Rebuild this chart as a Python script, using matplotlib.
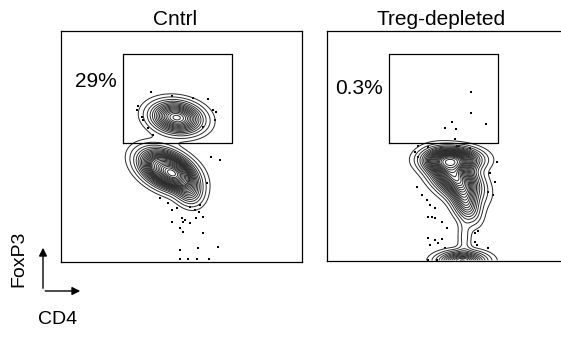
import numpy as np
import matplotlib
matplotlib.use('Agg')
import matplotlib.pyplot as plt

plt.rcParams['font.family'] = ['Liberation Sans', 'DejaVu Sans']

# panel titles and gate frequencies
titles = ['Cntrl', 'Treg-depleted']
gate_pct = ['29%', '0.3%']

# FoxP3+ gate (CD4 low..high, FoxP3 low..high), axis units 0-100
gate_x = [25.7, 71.0]
gate_y = [51.5, 90.0]

# cell populations: centre, spread, tilt, weight
cntrl_mx = [48.0, 44.0, 46.5, 53.0]
cntrl_my = [62.5, 40.0, 38.0, 31.0]
cntrl_sx = [6.2, 6.3, 3.4, 3.5]
cntrl_sy = [4.0, 4.8, 2.8, 4.0]
cntrl_rho = [-0.15, -0.4, -0.3, -0.2]
cntrl_w = [0.29, 0.53, 0.12, 0.06]

depl_mx = [52.0, 53.0, 57.5, 57.0, 56.0]
depl_my = [44.0, 36.5, 25.0, 10.0, 0.0]
depl_sx = [6.5, 6.0, 3.5, 1.8, 6.0]
depl_sy = [3.0, 5.5, 5.0, 5.0, 2.5]
depl_rho = [0.0, -0.45, -0.35, 0.0, 0.0]
depl_w = [0.3, 0.43, 0.1, 0.012, 0.14]

# share of events left outside each contour line
outside = [0.02, 0.05, 0.09, 0.13, 0.17, 0.21, 0.25, 0.29, 0.33, 0.37, 0.41,
           0.45, 0.49, 0.53, 0.57, 0.61, 0.65, 0.69, 0.73, 0.77, 0.81, 0.85,
           0.89, 0.93, 0.97]

# outlying events drawn as dots
cntrl_dot_x = [37.3, 32.1, 31.4, 33.5, 34.1, 36.2, 38.3, 45.9, 54.9, 61.1, 63.2, 64.3,
               63.9, 59.0, 62.1, 66.0, 60.5, 41.1, 44.5, 45.9, 48.0, 53.5, 55.6, 57.7,
               57.4, 50.1, 51.5, 50.7, 45.9, 53.5, 56.0, 59.0, 49.4, 50.7, 59.0, 49.4,
               57.0, 65.3, 49.4, 52.8, 56.6, 61.5]
cntrl_dot_y = [73.7, 67.7, 65.8, 62.9, 61.5, 58.1, 55.0, 72.0, 71.1, 70.6, 65.8, 65.1,
               61.5, 58.6, 45.6, 44.2, 34.1, 27.6, 25.4, 22.5, 23.2, 23.9, 22.5, 24.7,
               21.8, 18.9, 18.2, 17.2, 17.4, 16.8, 18.9, 19.6, 14.6, 13.1, 12.4, 5.2,
               5.9, 6.6, 1.3, 1.3, 1.3, 1.3]
depl_dot_x = [59.8, 59.8, 65.9, 52.0, 49.0, 53.5, 53.1, 37.9, 42.0, 53.8, 54.8, 59.3,
              36.5, 37.9, 70.4, 67.6, 69.7, 66.9, 69.0, 37.2, 39.3, 41.4, 42.7, 44.8,
              43.4, 44.8, 42.0, 47.6, 49.7, 62.8, 61.4, 42.0, 44.8, 47.6, 46.2, 42.7,
              49.0, 61.4, 62.1, 66.9, 42.0, 45.6]
depl_dot_y = [73.3, 64.5, 59.4, 60.6, 58.0, 57.3, 53.0, 50.0, 49.7, 50.0, 50.0, 49.0,
              47.5, 45.3, 43.2, 38.1, 34.5, 30.1, 28.7, 32.3, 28.7, 26.5, 24.3, 22.9,
              19.3, 18.6, 19.3, 17.1, 14.2, 13.0, 12.0, 9.9, 9.1, 9.6, 7.7, 7.0,
              5.5, 8.4, 7.0, 5.5, 0.4, 0.4]


def density(xx, yy, mx, my, sx, sy, rho, w):
    z = np.zeros_like(xx)
    for i in range(len(mx)):
        dx = (xx - mx[i]) / sx[i]
        dy = (yy - my[i]) / sy[i]
        q = (dx**2 - 2 * rho[i] * dx * dy + dy**2) / (1 - rho[i]**2)
        z += w[i] * np.exp(-q / 2) / (2 * np.pi * sx[i] * sy[i] * np.sqrt(1 - rho[i]**2))
    return z


def prob_levels(z):
    # density value at which a given share of events lies outside the line
    v = np.sort(z.ravel())[::-1]
    c = np.cumsum(v) / v.sum()
    lv = [v[np.searchsorted(c, 1 - p)] for p in outside]
    return np.unique(lv)


def draw_panel(ax, pct, pct_y, pops, dots_x, dots_y):
    gx = np.linspace(0, 100, 400)
    gy = np.linspace(0.3, 100, 400)
    xx, yy = np.meshgrid(gx, gy)
    z = density(xx, yy, *pops)
    ax.contour(xx, yy, z, levels=prob_levels(z), colors='#2a2a2a', linewidths=0.7)
    ax.scatter(dots_x, dots_y, s=2.5, marker='s', c='black', linewidths=0)
    ax.plot([gate_x[0], gate_x[1], gate_x[1], gate_x[0], gate_x[0]],
            [gate_y[0], gate_y[0], gate_y[1], gate_y[1], gate_y[0]],
            color='black', lw=0.9)
    ax.text(gate_x[0] - 2.5, pct_y, pct, ha='right', va='center', fontsize=15)
    ax.set_xlim(0, 100)
    ax.set_ylim(0, 100)
    ax.set_xticks([])
    ax.set_yticks([])
    for sp in ax.spines.values():
        sp.set_linewidth(0.9)


fig = plt.figure(figsize=(5.61, 3.39), dpi=100)
W, H = 561, 339
ax1 = fig.add_axes([61 / W, (H - 262) / H, 241 / W, 231 / H])
ax2 = fig.add_axes([327 / W, (H - 261) / H, 241 / W, 230 / H])

draw_panel(ax1, gate_pct[0], 78,
           (cntrl_mx, cntrl_my, cntrl_sx, cntrl_sy, cntrl_rho, cntrl_w),
           cntrl_dot_x, cntrl_dot_y)
draw_panel(ax2, gate_pct[1], 75,
           (depl_mx, depl_my, depl_sx, depl_sy, depl_rho, depl_w),
           depl_dot_x, depl_dot_y)

fig.text(175 / W, 1 - 25 / H, titles[0], ha='center', va='baseline', fontsize=15)
fig.text(441 / W, 1 - 25 / H, titles[1], ha='center', va='baseline', fontsize=15)

# axis orientation arrows
fig.add_artist(matplotlib.patches.FancyArrowPatch(
    (43 / W, 1 - 291 / H), (43 / W, 1 - 245 / H), transform=fig.transFigure,
    arrowstyle='-|>', mutation_scale=12, color='black', lw=1.0))
fig.add_artist(matplotlib.patches.FancyArrowPatch(
    (42.5 / W, 1 - 291 / H), (83 / W, 1 - 291 / H), transform=fig.transFigure,
    arrowstyle='-|>', mutation_scale=12, color='black', lw=1.0))
fig.text(18.5 / W, 1 - 259 / H, 'FoxP3', rotation=90, ha='center', va='center', fontsize=14)
fig.text(58 / W, 1 - 320 / H, 'CD4', ha='center', va='center', fontsize=14)

fig.savefig('out.png', dpi=100)
